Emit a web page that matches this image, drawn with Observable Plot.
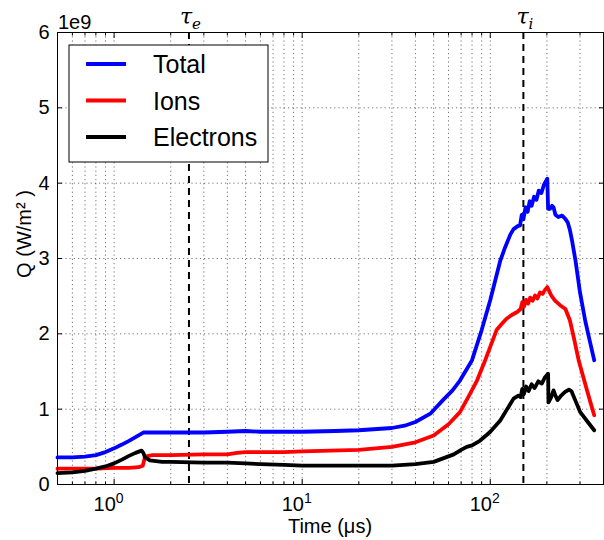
<!DOCTYPE html>
<html><head><meta charset="utf-8">
<script src="https://cdn.jsdelivr.net/npm/d3@7"></script>
<script src="https://cdn.jsdelivr.net/npm/@observablehq/plot@0.6"></script>
<style>body{margin:0;background:#fff;}#chart{width:604px;height:540px;}</style>
</head><body><div id="chart"></div>
<script>
const seriesNames = ["Total", "Ions", "Electrons"];
const seriesColors = ["#0000ff", "#ff0000", "#000000"];

// Q values in units of 1e9 W/m^2, time in microseconds
const totalTime = [0.5,0.6,0.7,0.8,0.9,1.0,1.1,1.2,1.3,1.43,1.6,2,3,4,5,6,8,10,15,20,30,35,40,48,56,63,69,80,90,100,113,120,128,133,140,144,147,150,154,158,162,166,171,176,181,187,193,201,203,208,213,217,222,230,241,250,258,265,272,284,300,320,340,357];
const totalQ    = [0.36,0.36,0.37,0.39,0.43,0.48,0.53,0.58,0.63,0.69,0.69,0.69,0.69,0.70,0.71,0.70,0.70,0.70,0.71,0.72,0.75,0.78,0.83,0.94,1.12,1.25,1.38,1.65,2.05,2.45,2.97,3.15,3.32,3.39,3.43,3.44,3.58,3.52,3.68,3.62,3.76,3.70,3.82,3.78,3.90,3.87,3.98,4.06,3.66,3.66,3.70,3.68,3.58,3.55,3.57,3.53,3.48,3.38,3.24,2.97,2.55,2.17,1.88,1.65];

const ionsTime = [0.5,0.8,1.0,1.2,1.35,1.42,1.46,1.6,2,3,4,4.5,5,6,8,10,20,30,40,50,60,69,76,85,94,108,115,122,130,139,145,148,151,155,159,163,168,173,178,184,190,195,201,210,215,221,235,251,265,277,295,320,340,357];
const ionsQ    = [0.21,0.21,0.22,0.22,0.23,0.25,0.37,0.39,0.39,0.40,0.40,0.42,0.43,0.43,0.43,0.44,0.46,0.50,0.56,0.65,0.80,0.96,1.15,1.38,1.65,2.05,2.13,2.20,2.25,2.29,2.33,2.42,2.36,2.45,2.40,2.48,2.44,2.51,2.47,2.55,2.53,2.58,2.62,2.52,2.48,2.44,2.38,2.33,2.18,1.97,1.65,1.33,1.10,0.92];

const electronsTime = [0.5,0.6,0.7,0.8,0.9,1.0,1.1,1.2,1.3,1.4,1.43,1.46,1.55,1.8,2,3,4,5,6,8,10,20,30,40,50,58,64,70,75,80,88,96,100,113,125,133,141,145,148,151,155,160,166,172,180,188,195,203,204,210,217,222,228,238,250,262,270,285,301,330,357];
const electronsQ    = [0.15,0.16,0.18,0.21,0.24,0.28,0.33,0.38,0.42,0.45,0.42,0.36,0.32,0.30,0.30,0.29,0.29,0.28,0.27,0.26,0.25,0.25,0.25,0.27,0.30,0.36,0.40,0.46,0.50,0.52,0.58,0.66,0.70,0.85,1.03,1.14,1.18,1.16,1.27,1.20,1.30,1.24,1.33,1.28,1.37,1.34,1.42,1.47,1.09,1.15,1.25,1.18,1.12,1.18,1.23,1.26,1.24,1.10,0.96,0.83,0.72];

const tauTimes = [2.5, 150];
const tauSubscripts = ["e", "i"];

const yTicks = [0,1,2,3,4,5,6];
const xMajorTicks = [1, 10, 100];
const xMajorExponents = ["0", "1", "2"];
const xMinorTicks = [0.5,0.6,0.7,0.8,0.9,2,3,4,5,6,7,8,9,20,30,40,50,60,70,80,90,200,300,400];
const yOffsetLabel = "1e9";
const xLabel = "Time (μs)";
const yLabel = "Q (W/m² )";

const seriesTimes = [totalTime, ionsTime, electronsTime];
const seriesValues = [totalQ, ionsQ, electronsQ];
const rows = [];
seriesNames.forEach((name, s) => {
  seriesTimes[s].forEach((t, i) => rows.push({series: name, t, q: seriesValues[s][i]}));
});
const allXGrid = [...xMajorTicks, ...xMinorTicks];

const gridStyle = {stroke: "#000", strokeOpacity: 0.55, strokeDasharray: "1.2,3", strokeWidth: 1};
const FONT = "'Liberation Sans', Arial, sans-serif";
const SERIF = "'DejaVu Serif', serif";

const plot = Plot.plot({
  width: 604,
  height: 540,
  marginLeft: 57,
  marginRight: 1,
  marginTop: 32,
  marginBottom: 56,
  style: {fontFamily: FONT, fontSize: "20px", background: "#fff", overflow: "visible", color: "#000"},
  x: {type: "log", domain: [0.5, 400]},
  y: {domain: [0, 6]},
  color: {domain: seriesNames, range: seriesColors},
  marks: [
    Plot.gridX(allXGrid, gridStyle),
    Plot.gridY(yTicks, gridStyle),
    Plot.ruleX(tauTimes, {stroke: "#000", strokeWidth: 2, strokeDasharray: "7,5"}),
    Plot.line(rows, {x: "t", y: "q", z: "series", stroke: "series", strokeWidth: 3.8, strokeLinejoin: "round"}),
    Plot.frame({stroke: "#000", strokeWidth: 1}),
    // inward ticks
    Plot.axisX(xMajorTicks, {anchor: "bottom", tickSize: -5, fill: "none", label: null}),
    Plot.axisX(xMinorTicks, {anchor: "bottom", tickSize: -2.5, fill: "none", label: null}),
    Plot.axisX(xMajorTicks, {anchor: "top", tickSize: -5, fill: "none", label: null}),
    Plot.axisX(xMinorTicks, {anchor: "top", tickSize: -2.5, fill: "none", label: null}),
    Plot.axisY(yTicks, {anchor: "left", tickSize: -5, fill: "none", label: null}),
    Plot.axisY(yTicks, {anchor: "right", tickSize: -5, fill: "none", label: null}),
    Plot.axisY(yTicks, {anchor: "left", tickSize: 0, tickPadding: 8, tickFormat: d => String(d), fontSize: 20, label: null})
  ]
});
document.getElementById("chart").appendChild(plot);

const xs = plot.scale("x");
const svg = d3.select(plot);

// x tick labels 10^k with superscripts
xMajorTicks.forEach((t, i) => {
  const tx = svg.append("text")
    .attr("x", xs.apply(t) - 5).attr("y", 511)
    .attr("text-anchor", "middle")
    .attr("font-family", FONT).attr("font-size", 20).attr("fill", "#000");
  tx.append("tspan").text("10");
  tx.append("tspan").attr("dy", -8).attr("font-size", 14).text(xMajorExponents[i]);
});

// axis labels
svg.append("text")
  .attr("x", 330).attr("y", 533)
  .attr("text-anchor", "middle")
  .attr("font-family", FONT).attr("font-size", 20).attr("fill", "#000")
  .text(xLabel);
svg.append("text")
  .attr("transform", "translate(31,234) rotate(-90)")
  .attr("text-anchor", "middle")
  .attr("font-family", FONT).attr("font-size", 20).attr("fill", "#000")
  .text(yLabel);
svg.append("text")
  .attr("x", 58).attr("y", 29)
  .attr("text-anchor", "start")
  .attr("font-family", FONT).attr("font-size", 20).attr("fill", "#000")
  .text(yOffsetLabel);

// tau labels
tauTimes.forEach((t, i) => {
  const tx = svg.append("text")
    .attr("x", xs.apply(t) + 2).attr("y", 24)
    .attr("text-anchor", "middle")
    .attr("font-family", SERIF).attr("font-style", "italic").attr("font-size", 22).attr("fill", "#000");
  tx.append("tspan").text("τ");
  tx.append("tspan").attr("dy", 5).attr("font-size", 15).text(tauSubscripts[i]);
});

// legend (upper left, inside axes)
const lg = svg.append("g").attr("transform", "translate(69,45)");
lg.append("rect").attr("width", 199).attr("height", 117).attr("fill", "#fff").attr("stroke", "#000").attr("stroke-width", 1);
seriesNames.forEach((name, i) => {
  const yy = 19 + i * 36.5;
  lg.append("line").attr("x1", 17).attr("x2", 57).attr("y1", yy).attr("y2", yy)
    .attr("stroke", seriesColors[i]).attr("stroke-width", 3.8);
  lg.append("text").attr("x", 84).attr("y", yy + 9).attr("font-size", 25)
    .attr("text-anchor", "start")
    .attr("font-family", FONT).attr("fill", "#000").text(name);
});
</script>
</body></html>
